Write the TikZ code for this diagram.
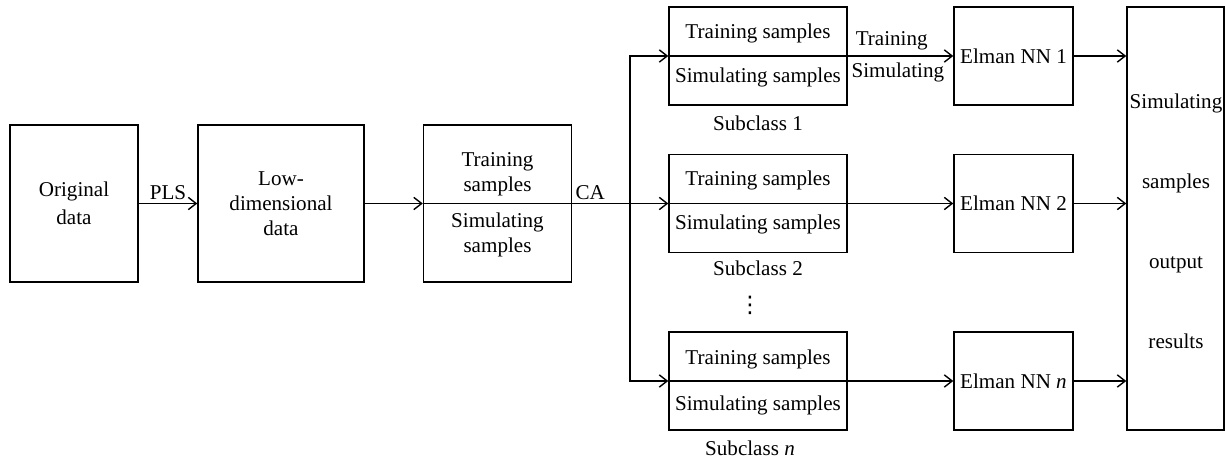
\documentclass[tikz,border=0pt]{standalone}
\usepackage{fontspec}
\setmainfont{Liberation Serif}
\newfontfamily\dotsfont{DejaVu Sans}
\usetikzlibrary{positioning}
\usetikzlibrary{calc}
\usetikzlibrary{arrows.meta}
\tikzset{
    % Open barbed arrow heads, as in the figure
    >={Straight Barb[length=4.5pt, width=7pt]},
%
    % Lines
    line/.style={line width=0.8pt},
    flow/.style={line, ->},
%
    % We almost always want centre aligned node text
    every node/.style={align=center},
}

\begin{document}
\begin{tikzpicture}[
    x=0.02cm, y=-0.02cm,
    font=\fontsize{12}{14.2}\selectfont,
    basic box/.style={draw, line, inner sep=0},
    data box/.style={basic box, minimum height=3.14cm},
    sub box/.style={basic box, minimum width=3.56cm, minimum height=1.96cm},
    net box/.style={basic box, minimum width=2.38cm, minimum height=1.96cm},
]

\useasboundingbox (0,0) rectangle (1225,459);

% Preprocessing chain
\path
    (74,203.5) node [data box, minimum width=2.56cm] (orig)
        {Original\\[1.5pt]data}
    (281,203.5) node [data box, minimum width=3.32cm] (low dim)
        {Low-\\dimensional\\data}
    (497.5,203.5) node [data box, minimum width=2.96cm] (samples) {}
    (497.5,174) node (samples train) {Training\\samples}
    (497.5,235) node (samples sim) {Simulating\\samples};

% Subclasses
\path
    (758,56) node [sub box] (sub 1) {}
    +(0,-23) node (sub 1 train) {Training samples}
    +(0,21) node (sub 1 sim) {Simulating samples}
    +(0,67) node (sub 1 label) {Subclass 1}
    (758,203.5) node [sub box] (sub 2) {}
    +(0,-23) node (sub 2 train) {Training samples}
    +(0,21) node (sub 2 sim) {Simulating samples}
    +(0,65) node (sub 2 label) {Subclass 2}
    (750,305) node [font=\dotsfont\fontsize{13}{13}\selectfont] (dots) {⋮}
    (758,381) node [sub box] (sub n) {}
    +(0,-22) node (sub n train) {Training samples}
    +(0,24) node (sub n sim) {Simulating samples}
    +(-8,67) node (sub n label) {Subclass \textit{n}};

% Networks and output
\path
    (1013.5,56) node [net box] (elman 1) {Elman NN 1}
    (1013.5,203.5) node [net box] (elman 2) {Elman NN 2}
    (1013.5,381) node [net box] (elman n) {Elman NN \textit{n}}
    (1175.5,218.5) node [basic box, minimum width=1.94cm,
        minimum height=8.46cm] (output) {}
    (1176,221) node [font=\fontsize{12}{45.6}\selectfont] (output text)
        {Simulating\\samples\\output\\results};

\coordinate (bus) at (630,203.5);

\draw [flow] (orig) -- (low dim)
    node [midway, above, inner sep=2pt] {PLS};
\draw [flow] (low dim) -- (samples);
\draw [line] (samples.west) -- (samples.east);
\draw [flow] (samples.east) -- (sub 2.west)
    node [pos=0, anchor=south west, inner sep=1.5pt] {CA};
\draw [flow] (bus) |- (sub 1.west);
\draw [flow] (bus) |- (sub n.west);

\draw [line] (sub 1.west) -- (sub 1.east);
\draw [line] (sub 2.west) -- (sub 2.east);
\draw [line] (sub n.west) -- (sub n.east);

\draw [flow] (sub 1.east) -- (elman 1.west)
    node [midway, above, inner sep=3pt, xshift=-5pt] {Training}
    node [midway, below, inner sep=3.5pt, xshift=-1.5pt] {Simulating};
\draw [flow] (sub 2.east) -- (elman 2.west);
\draw [flow] (sub n.east) -- (elman n.west);

\draw [flow] (elman 1) -- (elman 1 -| output.west);
\draw [flow] (elman 2) -- (elman 2 -| output.west);
\draw [flow] (elman n) -- (elman n -| output.west);

\end{tikzpicture}
\end{document}
